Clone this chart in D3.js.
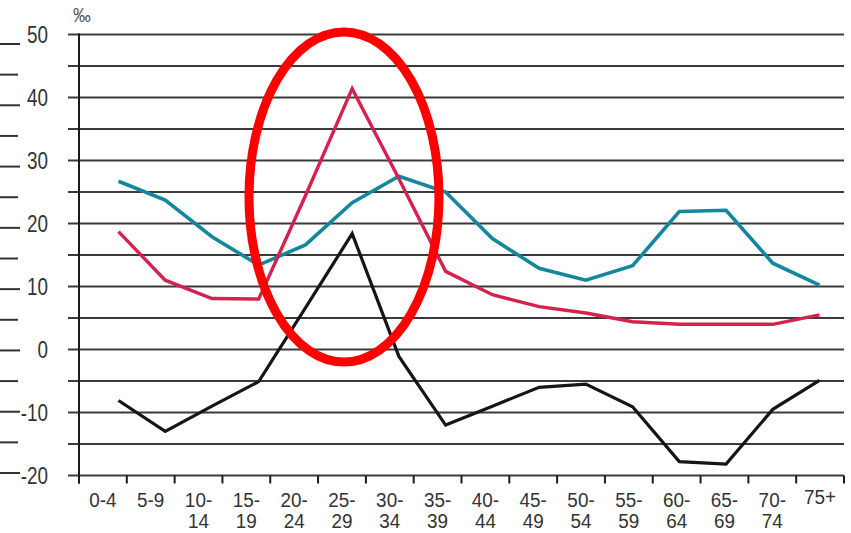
<!DOCTYPE html>
<html>
<head>
<meta charset="utf-8">
<script src="https://cdn.jsdelivr.net/npm/d3@7"></script>
<style>
  html, body { margin: 0; padding: 0; background: #fff; }
  svg { display: block; }
  text { font-family: "Liberation Sans", Arial, sans-serif; }
</style>
</head>
<body>
<svg id="chart" width="851" height="533"></svg>
<script>
const categories = ["0-4","5-9","10-14","15-19","20-24","25-29","30-34","35-39","40-44","45-49","50-54","55-59","60-64","65-69","70-74","75+"];
const tealValues  = [26.7, 23.7, 17.9, 13.4, 16.6, 23.3, 27.5, 25.0, 17.6, 12.9, 11.0, 13.3, 21.9, 22.1, 13.7, 10.2];
const redValues   = [18.7, 11.0, 8.1, 8.0, 24.4, 41.4, 27.1, 12.4, 8.7, 6.8, 5.8, 4.4, 4.0, 4.0, 4.0, 5.5];
const blackValues = [-8.1, -13.0, -9.0, -5.1, 6.6, 18.4, -1.1, -12.0, -9.0, -6.0, -5.5, -9.1, -17.8, -18.2, -9.5, -4.9];
const yTickLabels = [50, 40, 30, 20, 10, 0, -10, -20];
const gridValues  = [50, 45, 40, 35, 30, 25, 20, 15, 10, 5, 0, -5, -10, -15, -20];
const unitLabel = "‰";

const svg = d3.select("#chart");

const y = d3.scaleLinear().domain([-20, 50]).range([475.5, 34.5]);
const xBand = d3.scaleBand().domain(categories).range([79, 844]);
const xPt = d3.scalePoint().domain(categories).range([118.5, 819.5]);

// neighbouring panel remnants at the far left edge
const leftScale = d3.scaleLinear().domain([0, 14]).range([44, 473]);
svg.append("g").selectAll("line").data(d3.range(15)).join("line")
  .attr("x1", 0).attr("x2", d => d % 2 === 0 ? 20 : 18)
  .attr("y1", d => leftScale(d)).attr("y2", d => leftScale(d))
  .attr("stroke", "#333").attr("stroke-width", 2);

// gridlines (every 5 units), extending left as tick stubs
svg.append("g").selectAll("line").data(gridValues).join("line")
  .attr("x1", 68).attr("x2", 844)
  .attr("y1", d => y(d)).attr("y2", d => y(d))
  .attr("stroke", "#3a3a3a").attr("stroke-width", 2);

// y axis line
svg.append("line")
  .attr("x1", 79).attr("x2", 79)
  .attr("y1", y(50) - 1).attr("y2", y(-20) + 8)
  .attr("stroke", "#1a1a1a").attr("stroke-width", 2);

// x axis ticks at band boundaries
const boundaries = categories.map(c => xBand(c)).concat([xBand.range()[1]]);
svg.append("g").selectAll("line").data(boundaries).join("line")
  .attr("x1", d => d).attr("x2", d => d)
  .attr("y1", y(-20)).attr("y2", y(-20) + 8)
  .attr("stroke", "#1a1a1a").attr("stroke-width", 2);

// y tick labels (narrow appearance)
svg.append("g").selectAll("text").data(yTickLabels).join("text")
  .attr("transform", d => `translate(48,${y(d)}) scale(0.82,1)`)
  .attr("dy", "0.36em")
  .attr("text-anchor", "end")
  .attr("font-size", 23)
  .attr("fill", "#333")
  .text(d => d);

// unit label
svg.append("text")
  .attr("transform", "translate(73,22) scale(0.85,1)")
  .attr("font-size", 21)
  .attr("fill", "#555")
  .text(unitLabel);

// x tick labels
const xl = svg.append("g").selectAll("text").data(categories).join("text")
  .attr("transform", d => `translate(${xBand(d) + xBand.bandwidth() / 2},${d === "75+" ? 504 : 507}) scale(0.9,1)`)
  .attr("text-anchor", "middle")
  .attr("font-size", 21)
  .attr("fill", "#333");
xl.each(function(d) {
  const t = d3.select(this);
  const m = d.match(/^(\d+)-(\d+)$/);
  if (m && +m[1] >= 10) {
    t.append("tspan").attr("x", 0).text(m[1] + "-");
    t.append("tspan").attr("x", 0).attr("dy", 21).text(m[2]);
  } else {
    t.text(d);
  }
});

// series lines
const line = d3.line().x((d, i) => xPt(categories[i])).y(d => y(d));
const series = [
  { values: tealValues, color: "#14879f", width: 3.6 },
  { values: redValues, color: "#d5214d", width: 3.4 },
  { values: blackValues, color: "#151515", width: 3.2 }
];
svg.append("g").selectAll("path").data(series).join("path")
  .attr("d", d => line(d.values))
  .attr("fill", "none")
  .attr("stroke", d => d.color)
  .attr("stroke-width", d => d.width)
  .attr("stroke-linejoin", "miter");

// highlight ellipse around the 25-29 peak
svg.append("ellipse")
  .attr("cx", xBand("25-29") + xBand.bandwidth() / 2 + 2)
  .attr("cy", (y(50.4) + y(-2)) / 2)
  .attr("rx", 95)
  .attr("ry", (y(-2) - y(50.4)) / 2)
  .attr("fill", "none")
  .attr("stroke", "#ff0000")
  .attr("stroke-width", 9);
</script>
</body>
</html>
